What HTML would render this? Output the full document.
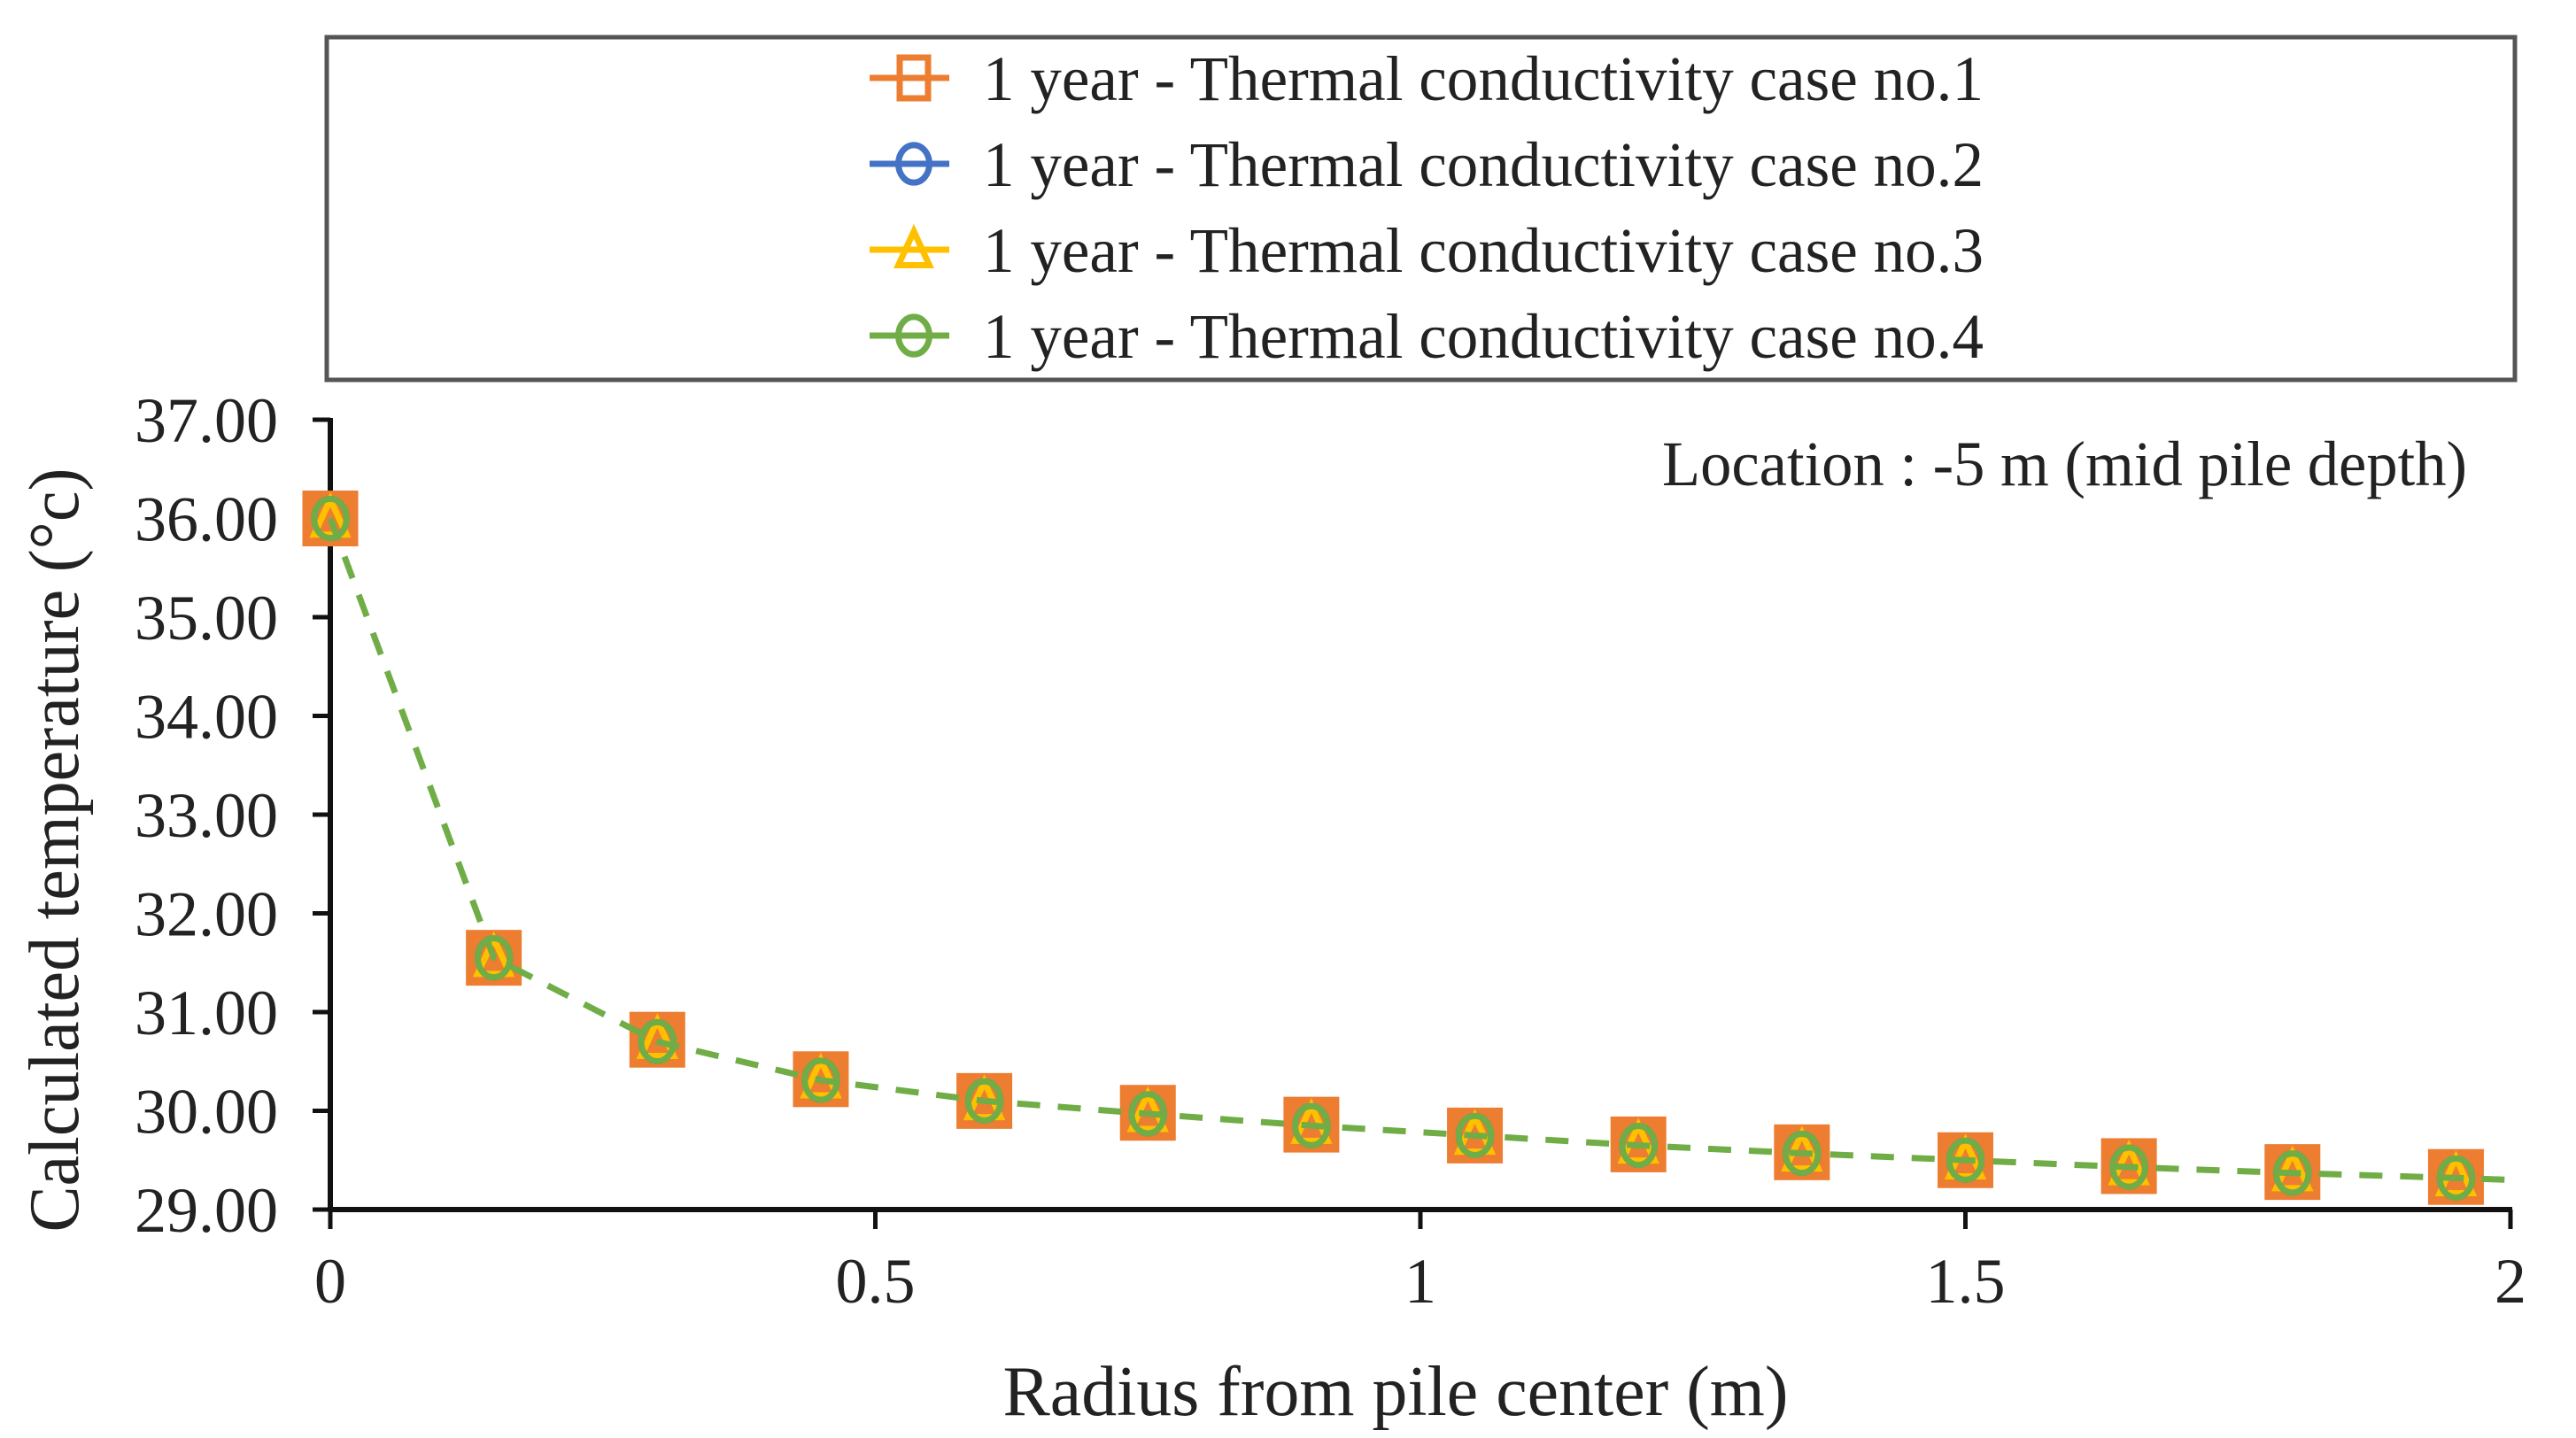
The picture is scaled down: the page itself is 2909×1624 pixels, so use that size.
<!DOCTYPE html>
<html><head><meta charset="utf-8"><style>
html,body{margin:0;padding:0;background:#fff}
svg{display:block}
text{font-family:"Liberation Serif",serif;fill:#222}
</style></head><body>
<svg id="chart" width="2909" height="1624" viewBox="0 0 2909 1624" xmlns="http://www.w3.org/2000/svg">
<rect x="369" y="42" width="2471" height="387" fill="#fff" stroke="#555" stroke-width="5"/>
<g id="legend"></g>
<g id="axes"></g>
<g id="marks"></g>
<text x="1877" y="548" font-size="72" textLength="909" lengthAdjust="spacingAndGlyphs">Location : -5 m (mid pile depth)</text>
<text transform="translate(88,960) rotate(-90)" text-anchor="middle" font-size="80" textLength="863" lengthAdjust="spacingAndGlyphs">Calculated temperature (°c)</text>
<text x="1576" y="1598" text-anchor="middle" font-size="80" textLength="887" lengthAdjust="spacingAndGlyphs">Radius from pile center (m)</text>
</svg>
<script>
const xValues=[0,0.15,0.3,0.45,0.6,0.75,0.9,1.05,1.2,1.35,1.5,1.65,1.8,1.95];
const case1=[36.0,31.55,30.72,30.32,30.1,29.98,29.86,29.75,29.66,29.58,29.5,29.44,29.38,29.33];
const case2=[36.0,31.55,30.7,30.31,30.1,29.97,29.85,29.75,29.65,29.57,29.5,29.43,29.37,29.32];
const case3=[36.0,31.55,30.72,30.32,30.1,29.98,29.86,29.75,29.66,29.58,29.5,29.44,29.38,29.33];
const case4=[36.0,31.55,30.7,30.31,30.1,29.97,29.85,29.75,29.65,29.57,29.5,29.43,29.37,29.32];
const lineEndX=[2];
const lineEndY=[29.3];
const yTicks=[29,30,31,32,33,34,35,36,37];
const yTickLabels=["29.00","30.00","31.00","32.00","33.00","34.00","35.00","36.00","37.00"];
const xTicks=[0,0.5,1,1.5,2];
const xTickLabels=["0","0.5","1","1.5","2"];
const legendLabels=["1 year - Thermal conductivity case no.1","1 year - Thermal conductivity case no.2","1 year - Thermal conductivity case no.3","1 year - Thermal conductivity case no.4"];

const NS="http://www.w3.org/2000/svg";
const X0=373,X1=2835,Y0=1366,Y1=474;
const sx=v=>X0+(v-0)/(2-0)*(X1-X0);
const sy=v=>Y0-(v-29)/(37-29)*(Y0-Y1);
function mk(tag,attrs,parent){const e=document.createElementNS(NS,tag);for(const k in attrs)e.setAttribute(k,attrs[k]);parent.appendChild(e);return e;}
const axes=document.getElementById('axes'),marks=document.getElementById('marks'),legend=document.getElementById('legend');
const colors=["#ED7D31","#4472C4","#FFC000","#70AD47"];

let e=mk('line',{x1:X0,y1:Y1-2,x2:X0,y2:Y0,stroke:'#111','stroke-width':6},axes);


e=mk('line',{x1:X0,y1:Y0,x2:X1+2,y2:Y0,stroke:'#111','stroke-width':6},axes);


yTicks.forEach((t,i)=>{
 const tk=mk('line',{x1:X0-20,y1:sy(t),x2:X0,y2:sy(t),stroke:'#111','stroke-width':5},axes);
 
 
 const tl=mk('text',{x:314,y:sy(t)+25,'text-anchor':'end','font-size':72},axes);
 tl.textContent=yTickLabels[i];
 
 
});
xTicks.forEach((t,i)=>{
 const tk=mk('line',{x1:sx(t),y1:Y0,x2:sx(t),y2:Y0+22,stroke:'#111','stroke-width':5},axes);
 
 
 const tl=mk('text',{x:sx(t),y:1471,'text-anchor':'middle','font-size':72},axes);
 tl.textContent=xTickLabels[i];
 
 
});

function marker(kind,cx,cy,col,parent,s){
 let m;
 if(kind==0) m=mk('rect',{x:cx-s*0.5,y:cy-s*0.5,width:s,height:s,fill:'none',stroke:col,'stroke-width':7},parent);
 else if(kind==2) m=mk('polygon',{points:`${cx},${cy-s*0.45} ${cx-s*0.38},${cy+s*0.38} ${cx+s*0.38},${cy+s*0.38}`,fill:'none',stroke:col,'stroke-width':7},parent);
 else m=mk('ellipse',{cx:cx,cy:cy,rx:s*0.38,ry:s*0.46,fill:'none',stroke:col,'stroke-width':7},parent);
 return m;
}
const series=[case1,case2,case3,case4];
series.forEach((vals,si)=>{
 let d=vals.map((v,i)=>(i?'L':'M')+sx(xValues[i])+','+sy(v)).join(' ');
 if(si==3) d+=' L'+sx(lineEndX[0])+','+sy(lineEndY[0]);
 const p=mk('path',{d:d,fill:'none',stroke:colors[si],'stroke-width':7,'stroke-dasharray':'26,20',opacity:si==3?1:0},marks);
 
 
 vals.forEach((v,i)=>{
  const m=marker(si,sx(xValues[i]),sy(v),colors[si],marks,si==0?56:48);
  if(si==0){m.setAttribute('fill','#ED7D31');}
  
  
 });
});

const rowY=[88,185,282,379];
legendLabels.forEach((lab,i)=>{
 const g=mk('g',{},legend);
 
 
 mk('line',{x1:982,y1:rowY[i],x2:1072,y2:rowY[i],stroke:colors[i],'stroke-width':7},g);
 const m=marker(i,1032,rowY[i],colors[i],g,46);
 if(i==0){m.setAttribute('width',32);m.setAttribute('x',1016);}
 const t=mk('text',{x:1110,y:rowY[i]+25,'font-size':72,textLength:1130,lengthAdjust:'spacingAndGlyphs'},g);
 t.textContent=lab;
});
</script>
</body></html>
